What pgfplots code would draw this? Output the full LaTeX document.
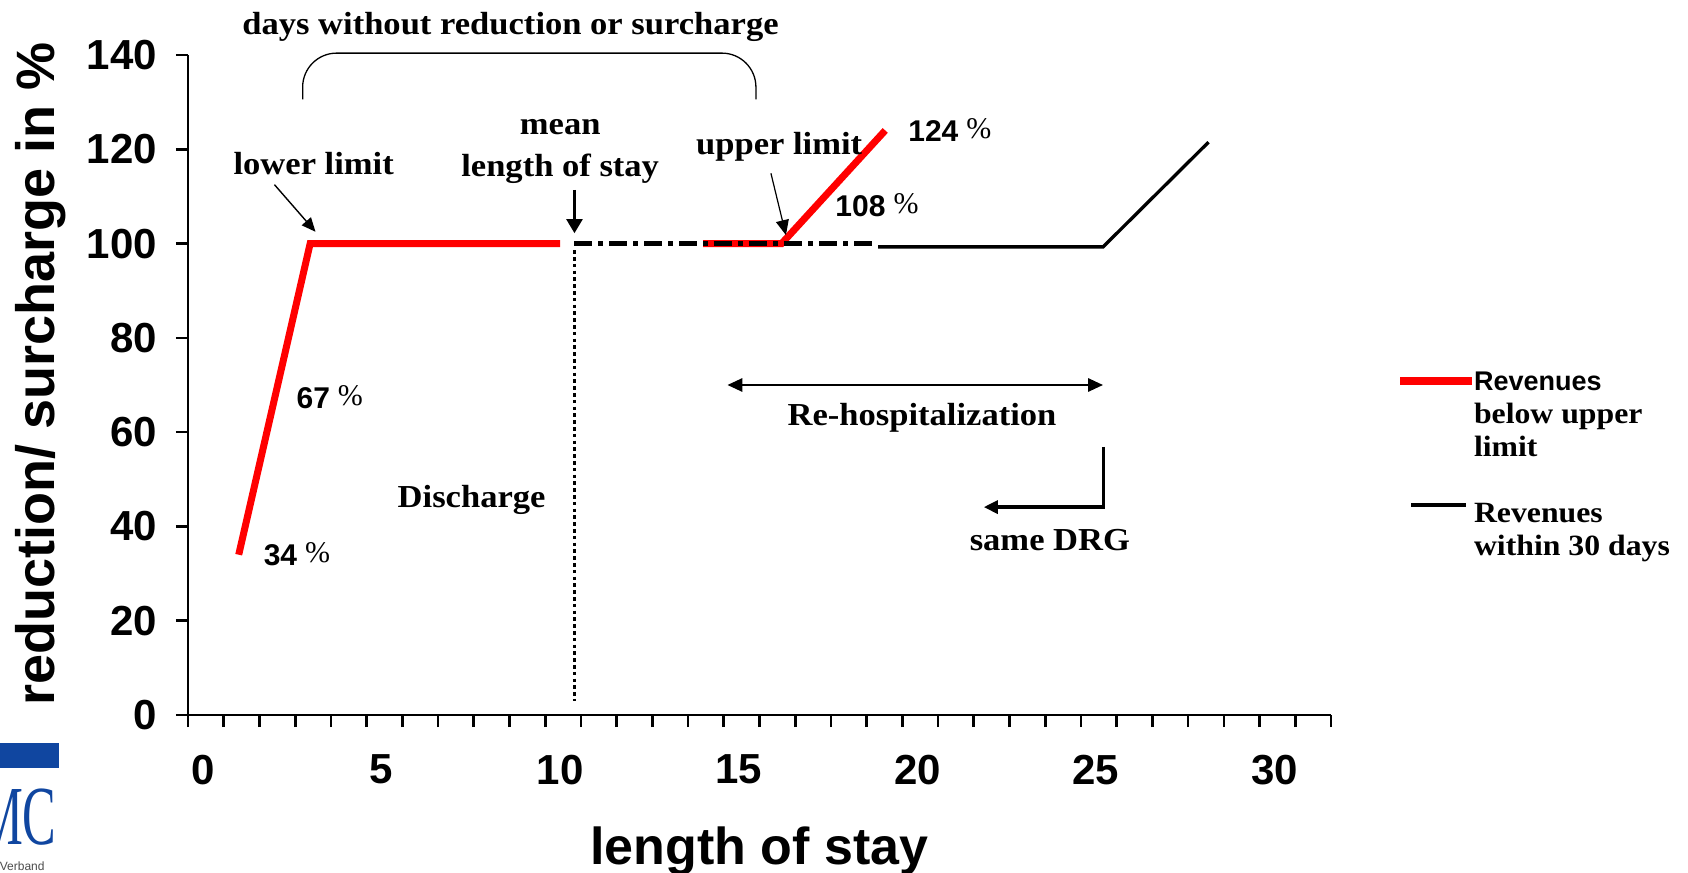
\documentclass[border=0pt]{standalone}
\usepackage{fontspec}
\usepackage{pgfplots}
\pgfplotsset{compat=1.18}
\usetikzlibrary{arrows.meta}
\setmainfont{Liberation Sans}
\newfontfamily\serifb[FakeStretch=1.08]{Liberation Serif}
\newfontfamily\serifr{Liberation Serif}
\newfontfamily\logofont[FakeStretch=0.6]{Liberation Serif}
\definecolor{logoblue}{RGB}{16,70,160}
\newcommand{\pct}[1]{{\rmfamily\bfseries\fontsize{15}{15}\selectfont #1}\hspace{4pt}{\serifr\fontsize{15}{15}\selectfont\raisebox{1.5pt}{\%}}}
\newcommand{\ann}{\serifb\bfseries\fontsize{16}{19}\selectfont}
\begin{document}
\begin{tikzpicture}
\path[use as bounding box] (0,0) rectangle (844pt,436.5pt);
% logo fragment
\fill[logoblue] (0,52.5pt) rectangle (29.5pt,65pt);
\node[anchor=base east, inner sep=0pt, text=logoblue, font=\logofont\fontsize{42}{42}\selectfont] at (28.5pt,14pt) {MC};
\node[anchor=east, inner sep=0pt, text=black!70, font=\fontsize{6}{6}\selectfont] at (22.5pt,3.6pt) {Verband};
\begin{axis}[
  at={(94pt,79pt)}, anchor=south west,
  scale only axis, width=571.5pt, height=330pt,
  xmin=-0.42, xmax=31.58, ymin=0, ymax=140,
  clip=false,
  axis x line=bottom, axis y line=left,
  axis line style={-, line width=1.35pt},
  tick align=outside,
  major tick length=6pt,
  tick style={black, line width=1.35pt},
  ytick={0,20,40,60,80,100,120,140},
  xtick={-0.42,0.58,1.58,2.58,3.58,4.58,5.58,6.58,7.58,8.58,9.58,10.58,11.58,12.58,13.58,14.58,15.58,16.58,17.58,18.58,19.58,20.58,21.58,22.58,23.58,24.58,25.58,26.58,27.58,28.58,29.58,30.58,31.58},
  xticklabels={},
  extra x ticks={0,5,10,15,20,25,30},
  extra x tick labels={0,5,10,15,20,25,30},
  extra x tick style={major tick length=0pt, xticklabel style={yshift=-16.5pt}},
  /pgf/number format/assume math mode=true,
  tick label style={font=\fontsize{21}{21}\selectfont\bfseries},
  yticklabel style={xshift=-6pt},
  xlabel={length of stay},
  xlabel style={at={(axis description cs:0.5,-0.206)}, anchor=center, font=\fontsize{26}{26}\selectfont\bfseries},
  ylabel={reduction/ surcharge in \%},
  ylabel style={at={(axis description cs:-0.1286,0.5167)}, anchor=center, font=\fontsize{27}{27}\selectfont\bfseries},
  legend style={draw=none, fill=none, inner sep=0pt, outer sep=0pt,
    at={(axis description cs:1.0569,0.5273)}, anchor=north west,
    row sep=0.5pt, column sep=-2pt,
    nodes={inner sep=1pt, text height=11pt, text depth=3pt},
    font=\serifb\bfseries\fontsize{14.7}{14.7}\selectfont},
  legend cell align=left,
]
% red: revenues below upper limit
\addplot[red, line width=3.5pt,
  legend image code/.code={\draw[red, line width=4pt] (0pt,1pt) -- (36pt,1pt);}]
  coordinates {(1,34) (3,100) (10,100)};
\addlegendentry{{\rmfamily\bfseries\fontsize{13.5}{13.5}\selectfont Revenues}}
\addlegendimage{empty legend}\addlegendentry{below upper}
\addlegendimage{empty legend}\addlegendentry{limit}
\addlegendimage{empty legend}\addlegendentry{\phantom{x}}
% black: revenues within 30 days
\addplot[black, line width=1.65pt,
  legend image code/.code={\draw[black, line width=2.3pt] (5.5pt,5pt) -- (33pt,5pt);}]
  coordinates {(18.9,99.3) (25.2,99.3) (28.15,121.5)};
\addlegendentry{Revenues}
\addlegendimage{empty legend}\addlegendentry{within 30 days}
% red second part
\addplot[red, line width=3.5pt, forget plot] coordinates {(14,100) (16.2,100) (19.1,124)};
% dash-dot at 100
\addplot[black, line width=2.2pt, dash pattern=on 9pt off 3pt on 2.5pt off 3pt, forget plot] coordinates {(10.4,100) (18.85,100)};
% dotted mean length of stay
\addplot[black, line width=1.6pt, dash pattern=on 1.8pt off 1.6pt, forget plot] coordinates {(10.4,98.6) (10.4,3)};

% brace
\draw[line width=0.65pt, rounded corners=17pt] (axis cs:2.79,130.6) -- (axis cs:2.79,140.4) -- (axis cs:15.48,140.4) -- (axis cs:15.48,130.6);
\node[font=\ann] at (axis cs:8.61,145.9) {days without reduction or surcharge};
% annotations
\node[font=\ann] at (axis cs:3.10,116.9) {lower limit};
\draw[line width=0.7pt, -{Triangle[length=7pt,width=6pt]}] (axis cs:2.0,112.5) -- (axis cs:3.15,102.5);
\node[font=\ann] at (axis cs:10.0,124.7) {mean};
\node[font=\ann] at (axis cs:10.0,115.8) {length of stay};
\draw[line width=1.1pt, -{Triangle[length=7pt,width=8pt]}] (axis cs:10.4,111.4) -- (axis cs:10.4,102.2);
\node[font=\ann] at (axis cs:16.13,120.5) {upper limit};
\draw[line width=0.6pt, -{Triangle[length=7.5pt,width=6.5pt]}] (axis cs:15.9,114.9) -- (axis cs:16.32,101.8);
\node at (axis cs:20.91,124.1) {\pct{124}};
\node at (axis cs:18.87,108.2) {\pct{108}};
\node at (axis cs:3.55,67.5) {\pct{67}};
\node at (axis cs:2.63,34.2) {\pct{34}};
\node[font=\ann] at (axis cs:7.52,45.6) {Discharge};
\draw[line width=1.4pt, {Triangle[length=7.5pt,width=6.5pt]}-{Triangle[length=7.5pt,width=6.5pt]}] (axis cs:14.68,70) -- (axis cs:25.2,70);
\node[font=\ann] at (axis cs:20.13,63.0) {Re-hospitalization};
\draw[line width=1.6pt, -{Triangle[length=7pt,width=6.5pt]}] (axis cs:25.2,56.9) -- (axis cs:25.2,44.1) -- (axis cs:21.86,44.1);
\node[font=\ann] at (axis cs:23.71,37.1) {same DRG};
\end{axis}
\end{tikzpicture}
\end{document}
